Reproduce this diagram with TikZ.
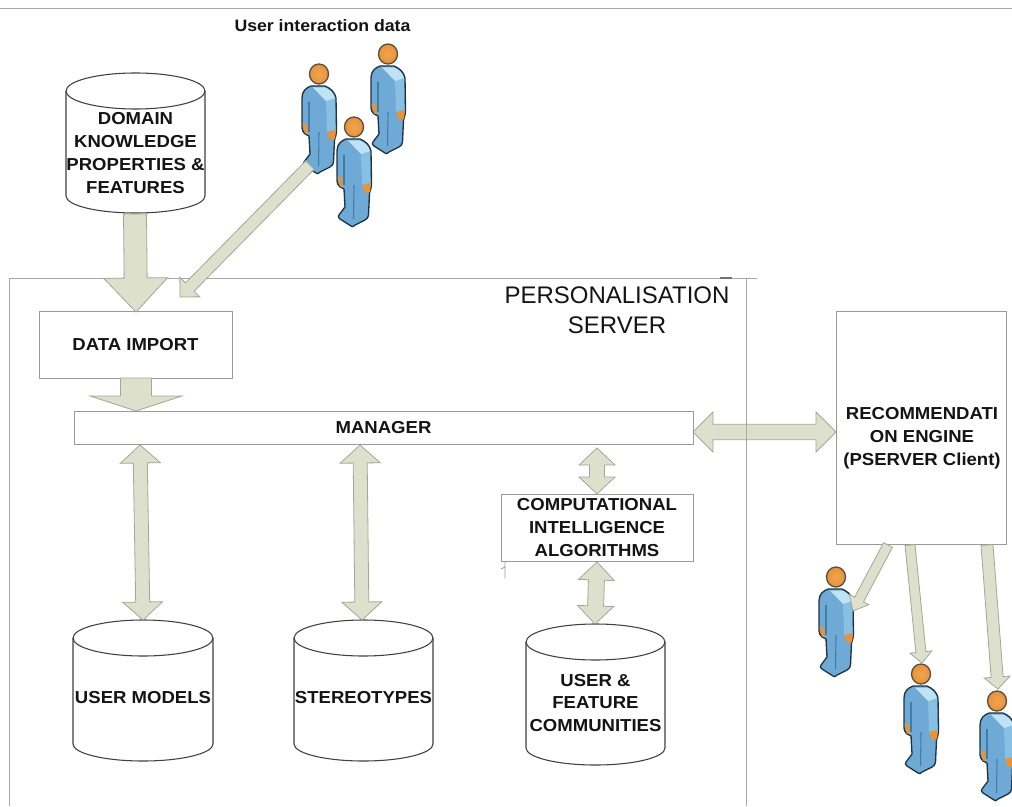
\documentclass[tikz,border=0pt]{standalone}
\usepackage{fontspec}
\setmainfont{Liberation Sans}[BoldFeatures={FakeStretch=1.07}]
\usetikzlibrary{calc}
\definecolor{arrowfill}{HTML}{DDE0CC}
\definecolor{arrowline}{HTML}{A3A796}
\definecolor{boxline}{HTML}{9A9A9A}
\definecolor{wallline}{HTML}{A8A8A8}
\definecolor{inktext}{HTML}{141414}
\definecolor{suitblue}{HTML}{6FAAD6}
\definecolor{suitarm}{HTML}{88C0E4}
\definecolor{suitlight}{HTML}{BFE3F4}
\definecolor{suitdark}{HTML}{1E3442}
\definecolor{suitfold}{HTML}{3F7DA8}
\definecolor{skin}{HTML}{E8923A}
\definecolor{skinlight}{HTML}{F0A452}
\tikzset{
  boxnode/.style={draw=boxline,line width=0.7pt,fill=white,inner sep=0pt,align=center,text=inktext,font=\fontsize{13}{17}\selectfont\bfseries},
  dbtext/.style={inner sep=0pt,align=center,text=inktext,font=\fontsize{13}{17.2}\selectfont\bfseries},
  wall/.style={draw=wallline,line width=0.7pt},
  blockarrow/.style={draw=arrowline,fill=arrowfill,line width=0.6pt,line join=miter},
  person/.pic={
    \path[fill=suitblue,draw=suitdark,line width=1pt,line join=round]
      (-17,24) .. controls (-17,17) and (-13,14) .. (-8,12) -- (6,12)
      .. controls (11,14) and (16,18) .. (17,24) -- (17.5,56)
      .. controls (17.5,61) and (16,64) .. (15.5,66) -- (14.5,88)
      .. controls (14.5,90) and (13,92) .. (11,93) -- (1,98)
      .. controls (0,100) and (-2,100) .. (-3,99)
      -- (-14,92) .. controls (-16,91) and (-16,89) .. (-15,88)
      -- (-9,80) -- (-10,62) -- (-14,60) .. controls (-16,58) and (-17,56) .. (-17,54) -- cycle;
    \fill[suitarm] (7,26) -- (16,24) -- (16.3,56) -- (8,58) -- cycle;
    \fill[suitlight] (-6,13.5) -- (6,13.5) .. controls (10,15) and (14,18) .. (16,24) -- (7,27) -- cycle;
    \draw[suitfold,line width=0.8pt] (0,58) -- (-0.5,92);
    \draw[suitfold,line width=0.8pt] (-10,28) -- (-10,58);
    \fill[skin] (8,58) -- (17,56) -- (16,65) -- (11,66) -- cycle;
    \fill[skin] (-16.5,50) -- (-12,50) -- (-11,60) -- (-14,59.5) -- cycle;
    \path[inner color=skinlight,outer color=skin,draw=suitdark!70!skin,line width=1pt] (0,0) circle [x radius=9.5,y radius=10];
  }
}
% single-headed block arrow: from, to, half shaft, half head, head length (px)
\newcommand{\singlearrow}[5]{%
  \coordinate (hb) at ($(#2)!#5*0.75pt!(#1)$);
  \path[blockarrow]
    ($(#1)!#3*0.75pt!90:(#2)$) --
    ($(hb)!#3*0.75pt!-90:(#1)$) --
    ($(hb)!#4*0.75pt!-90:(#1)$) --
    (#2) --
    ($(hb)!#4*0.75pt!90:(#1)$) --
    ($(hb)!#3*0.75pt!90:(#1)$) --
    ($(#1)!#3*0.75pt!-90:(#2)$) -- cycle;
}
% double-headed block arrow: end, end, half shaft, half head, head length (px)
\newcommand{\doublearrow}[5]{%
  \coordinate (hb) at ($(#2)!#5*0.75pt!(#1)$);
  \coordinate (ha) at ($(#1)!#5*0.75pt!(#2)$);
  \path[blockarrow]
    (#1) --
    ($(ha)!#4*0.75pt!90:(#2)$) --
    ($(ha)!#3*0.75pt!90:(#2)$) --
    ($(hb)!#3*0.75pt!-90:(#1)$) --
    ($(hb)!#4*0.75pt!-90:(#1)$) --
    (#2) --
    ($(hb)!#4*0.75pt!90:(#1)$) --
    ($(hb)!#3*0.75pt!90:(#1)$) --
    ($(ha)!#3*0.75pt!-90:(#2)$) --
    ($(ha)!#4*0.75pt!-90:(#2)$) -- cycle;
}
% cylinder: name, left, right, top, bottom, text, text centre y
\newcommand{\database}[7]{%
  \path[draw=black!75,line width=0.8pt,fill=white]
    (#2,#4+18) arc[start angle=180,end angle=0,x radius={(#3-#2)/2*0.75pt},y radius=13.5pt]
    -- (#3,#5-17) arc[start angle=0,end angle=-180,x radius={(#3-#2)/2*0.75pt},y radius=12.75pt] -- cycle;
  \draw[black!75,line width=0.8pt] (#2,#4+18) arc[start angle=180,end angle=360,x radius={(#3-#2)/2*0.75pt},y radius=13.5pt];
  \node[rectangle,inner sep=0pt,minimum width={(#3-#2)*0.75pt},minimum height={(#5-#4)*0.75pt}] (#1) at ({(#2+#3)/2},{(#4+#5)/2}) {};
  \node[dbtext] (#1text) at ({(#2+#3)/2},#7) {#6};
}
\begin{document}
\begin{tikzpicture}[x=0.75pt,y=-0.75pt]
\useasboundingbox (0,0) rectangle (1012,806);
\fill[white] (0,0) rectangle (1012,806);

% page rule and server outline
\draw[wall] (0,8) -- (1012,8);
\draw[wall] (9,806) -- (9,278) -- (757,278);
\draw[draw=black!55,line width=0.8pt] (720,278) -- (732,278);

% boxes
\node[boxnode,minimum width=144.75pt,minimum height=50.25pt] (import) at (135.5,344.5) {DATA IMPORT};
\node[boxnode,minimum width=464.25pt,minimum height=24.75pt] (manager) at (383.5,427.5) {MANAGER};
\node[boxnode,minimum width=144pt,minimum height=50.25pt] (algo) at (597,527.5) {COMPUTATIONAL\\INTELLIGENCE\\ALGORITHMS};
\node[boxnode,minimum width=127.5pt,minimum height=174.75pt] (reco) at (921,427.5) {};
\node[text=inktext,inner sep=0pt,align=center,font=\fontsize{13}{17.2}\selectfont\bfseries] (recotext) at (922,438) {RECOMMENDATI\\ON ENGINE\\(PSERVER Client)};

% databases
\database{domain}{66}{205}{73}{213}{DOMAIN\\KNOWLEDGE\\PROPERTIES \&\\FEATURES}{153}
\database{models}{73}{213}{620}{761}{USER MODELS}{698}
\database{stereo}{294}{433}{620}{761}{STEREOTYPES}{698}
\database{commun}{526}{665}{624}{765}{USER \&\\FEATURE\\COMMUNITIES}{703}

% titles
\node[inner sep=0pt,align=center,text=inktext,font=\fontsize{18}{22.5}\selectfont] (server) at (617,310) {PERSONALISATION\\SERVER};
\node[inner sep=0pt,text=inktext,font=\fontsize{12.4}{16}\selectfont\bfseries] (udata) at (322.5,26) {User interaction data};

% people
\coordinate (p1) at (319,74);
\coordinate (p2) at (388,54);
\coordinate (p3) at (354,127);
\coordinate (p4) at (836,577);
\coordinate (p5) at (921,674);
\coordinate (p6) at (997,701);
\pic at (p2) {person};
\pic at (p1) {person};
\pic at (p3) {person};
\pic at (p4) {person};
\pic at (p5) {person};
\pic at (p6) {person};

% arrow ends that do not fall on an anchor
\coordinate (userfrom) at ($(p1)+(-9,91)$);
\coordinate (usertip) at (180,297);
\coordinate (mg1) at (140,445);
\coordinate (um1) at (143,620);
\coordinate (mg2) at (360,445);
\coordinate (st1) at (362,620);
\coordinate (mg3) at (597,448);
\coordinate (al1) at (597,494);
\coordinate (al2) at (597,562);
\coordinate (uc1) at (595,624);
\coordinate (mg4) at (693,432);
\coordinate (re1) at (836,432);
\coordinate (re2) at (888,545);
\coordinate (re3) at (910,545);
\coordinate (re4) at (987,545);
\coordinate (t4) at ($(p4)+(17,34)$);
\coordinate (t5) at ($(p5)+(1,-11)$);
\coordinate (t6) at ($(p6)+(1,-12)$);
\coordinate (mgtop) at (136,411);
\coordinate (imbot) at (136,378);
\coordinate (imtop) at (136,312);
\coordinate (dkbot) at (135,214);

% arrows
\singlearrow{dkbot}{imtop}{11.5}{32}{34}
\singlearrow{userfrom}{usertip}{6}{14}{14}
\singlearrow{imbot}{mgtop}{15.5}{46}{15}
\doublearrow{mg1}{um1}{7}{20}{18}
\doublearrow{mg2}{st1}{7}{20}{18}
\doublearrow{mg3}{al1}{7.5}{18}{17}
\doublearrow{al2}{uc1}{8}{18}{18}
\doublearrow{mg4}{re1}{7.7}{20}{20}
\singlearrow{re2}{t4}{5}{11}{13}
\singlearrow{re3}{t5}{5}{11}{11}
\singlearrow{re4}{t6}{6}{13}{12}

% wall drawn over the arrow, and the small stray mark
\draw[wall] (746,278) -- (746,806);
\draw[boxline,line width=0.6pt] (505,561) -- (505,578) (501,569) -- (505,567);
\end{tikzpicture}
\end{document}
